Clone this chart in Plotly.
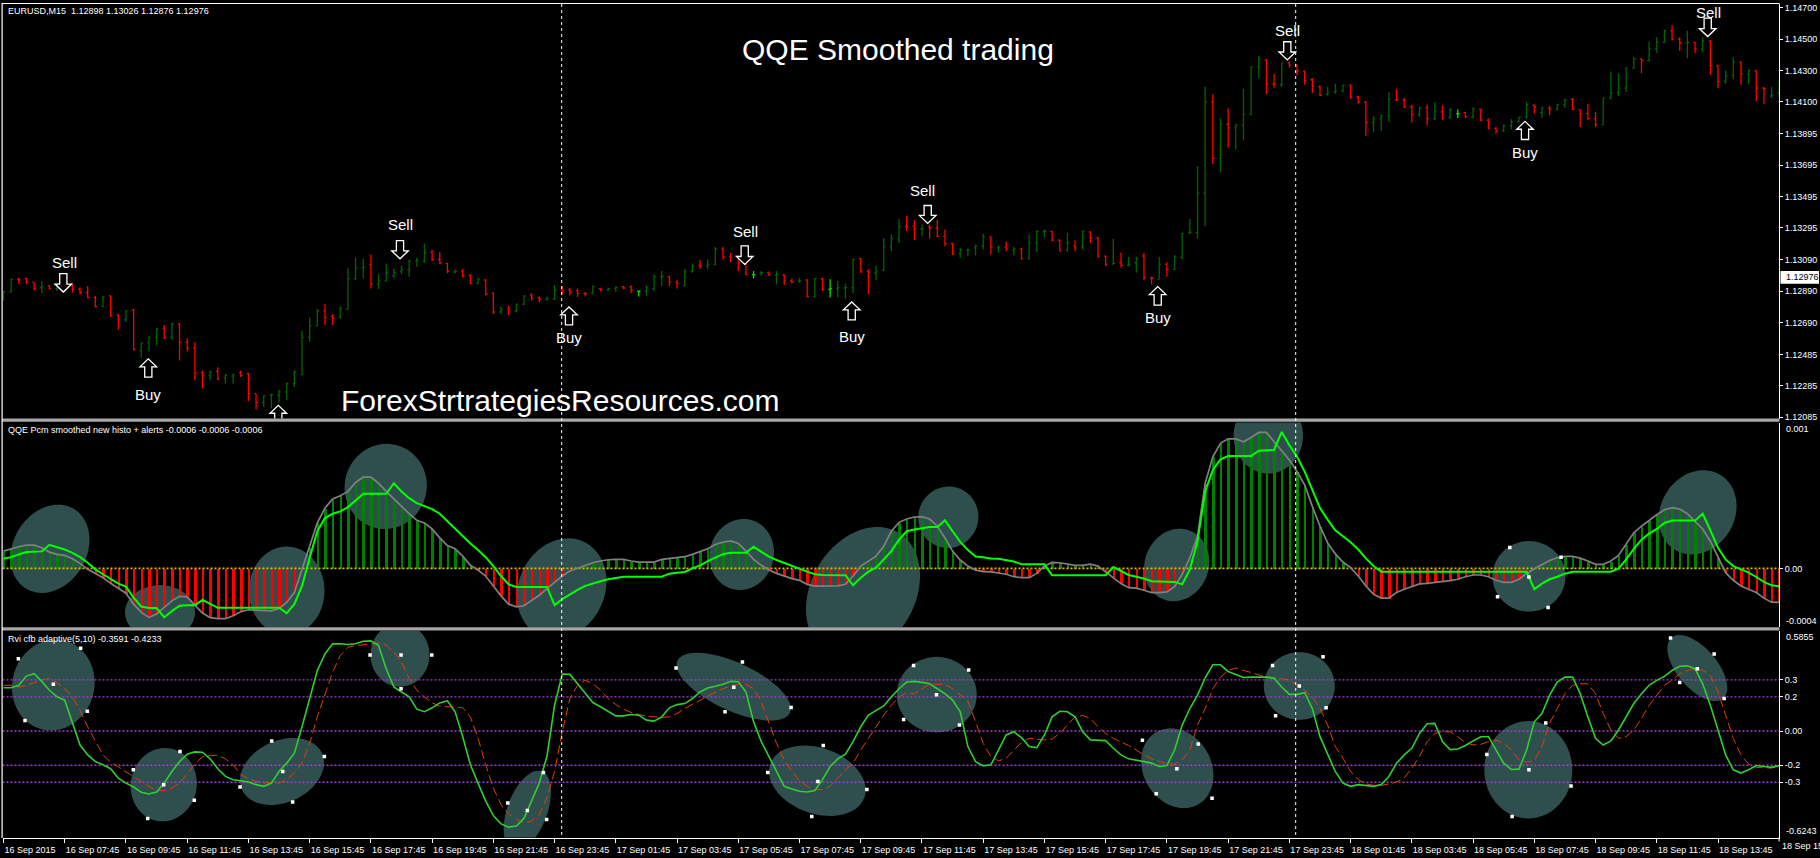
import math
import plotly.graph_objects as go

W, H = 1820, 858
# ---------- price bars, in points above 1.12000 ----------
open_pts = [861,886,966,971,949,913,924,907,924,935,
903,882,850,793,861,738,708,770,511,560,
596,653,596,681,564,526,369,353,378,336,
348,369,363,236,179,226,226,247,300,357,
596,670,765,729,723,776,971,1041,1062,935,
956,988,1019,1026,1083,1083,1140,1093,1068,1013,
1019,992,941,962,878,759,776,765,808,865,
850,835,839,899,899,892,877,877,907,899,
907,920,918,890,892,907,983,983,949,928,
1019,1055,1051,1062,1161,1110,1115,1062,996,1005,
1009,992,994,956,954,962,856,971,903,907,
911,913,1098,1017,1009,1024,1174,1225,1305,1305,
1288,1301,1294,1241,1195,1131,1153,1167,1178,1237,
1167,1174,1153,1161,1097,1199,1271,1273,1216,1153,
1178,1174,1269,1231,1114,1064,1072,1055,1072,1114,
975,966,1062,1030,1104,1263,1263,1517,2099,1739,
1957,1934,1949,2021,2325,2368,2215,2211,2347,2334,
2296,2241,2198,2148,2162,2169,2207,2131,2099,1968,
1993,2010,2114,2110,2067,2019,2061,1993,2036,1997,
2025,2031,2004,2052,1983,1930,1913,1947,1972,2002,
2078,2031,2061,2052,2082,2116,2050,2025,1993,1955,
2124,2158,2188,2315,2374,2364,2438,2480,2554,2501,
2476,2480,2438,2489,2332,2230,2268,2353,2279,2300,
2188,2137,2158]
close_pts = [888,966,962,949,907,920,907,935,945,903,
882,850,793,854,734,712,765,518,560,596,
649,596,681,564,526,369,353,374,331,353,
357,353,236,179,221,230,247,300,374,596,
670,765,723,717,780,971,1041,1043,935,956,
1009,1009,1026,1083,1089,1136,1093,1072,1019,1019,
988,941,966,871,759,772,765,808,861,844,
839,844,899,892,886,877,873,920,899,907,
913,911,899,890,913,983,985,949,941,1013,
1051,1051,1062,1163,1110,1108,1072,996,996,1009,
996,998,956,949,956,856,971,903,907,913,
913,1093,1013,1009,1019,1174,1225,1301,1301,1288,
1290,1294,1241,1195,1127,1153,1155,1178,1237,1174,
1174,1161,1161,1097,1199,1273,1275,1216,1148,1199,
1167,1273,1231,1114,1062,1068,1055,1062,1097,977,
973,1062,1030,1114,1258,1267,1517,2099,1739,1957,
1934,1949,2021,2325,2374,2215,2211,2347,2334,2300,
2236,2198,2141,2162,2169,2205,2131,2099,1968,1993,
2010,2116,2110,2067,2019,2061,1993,2036,1993,2046,
2025,2004,2052,1983,1930,1913,1947,1972,2002,2082,
2067,2061,2052,2082,2110,2052,2025,1993,1955,2124,
2158,2188,2315,2374,2364,2438,2480,2554,2501,2476,
2480,2438,2491,2332,2230,2268,2353,2279,2300,2188,
2184,2141,2205]
high_pts = [892,971,977,977,949,956,928,945,956,935,
914,924,861,861,865,744,772,776,564,602,
653,674,691,685,590,564,384,384,405,363,
363,384,369,236,226,236,257,306,384,638,
723,776,808,744,793,1041,1104,1098,1125,998,
1068,1034,1055,1093,1104,1195,1153,1140,1072,1030,
1034,998,977,966,882,793,797,812,865,878,
856,856,930,924,913,907,886,928,913,913,
924,924,928,894,928,998,1019,988,962,1034,
1068,1089,1093,1172,1174,1136,1119,1104,1019,1019,
1017,1019,998,971,977,966,977,977,966,956,
941,1098,1104,1030,1055,1231,1252,1352,1373,1343,
1316,1316,1347,1284,1199,1167,1161,1189,1258,1241,
1182,1208,1174,1167,1252,1280,1284,1275,1220,1263,
1216,1280,1273,1237,1119,1225,1136,1110,1110,1136,
983,1110,1076,1119,1263,1352,1690,2198,2148,1993,
2057,1961,2184,2325,2395,2374,2279,2347,2359,2338,
2300,2253,2205,2194,2215,2211,2211,2137,2103,2010,
2019,2163,2180,2124,2082,2067,2082,2099,2078,2061,
2052,2036,2065,2057,1993,1940,1955,1989,2004,2099,
2082,2067,2074,2088,2120,2124,2052,2088,2036,2129,
2294,2281,2321,2385,2379,2484,2512,2561,2590,2512,
2554,2484,2512,2491,2336,2300,2385,2357,2307,2300,
2194,2194,2243]
low_pts = [829,882,935,935,897,878,903,892,882,882,
871,844,787,787,727,645,695,511,465,505,
543,585,581,448,505,321,268,321,321,300,
300,342,187,137,151,141,179,194,278,353,
568,666,674,674,717,772,962,971,907,903,
950,977,998,983,1047,1072,1083,1062,1005,1005,
977,935,935,865,744,744,738,755,801,829,
818,829,835,871,865,854,856,871,890,892,
886,903,877,856,861,892,924,924,907,920,
1009,1034,1030,1055,1093,1076,1019,992,971,988,
988,935,930,941,945,850,850,892,850,850,
844,877,1009,871,962,1019,1146,1199,1273,1216,
1241,1225,1237,1178,1123,1104,1114,1119,1157,1125,
1136,1146,1119,1093,1093,1140,1233,1210,1146,1146,
1146,1157,1199,1104,1051,1062,1042,1047,1009,962,
934,966,983,1026,1097,1258,1225,1305,1703,1648,
1809,1796,1855,2014,2253,2148,2190,2194,2317,2268,
2211,2156,2135,2141,2152,2162,2120,2088,1883,1909,
1913,1972,2103,2061,1968,2004,1947,1983,1985,1993,
1997,1997,1993,1976,1925,1898,1909,1925,1968,1993,
2025,1997,2014,2046,2061,2046,1940,1983,1940,1951,
2116,2137,2163,2311,2283,2357,2412,2476,2491,2427,
2379,2412,2417,2273,2188,2215,2243,2209,2215,2103,
2084,2124,2131]
doji_bars = [83, 98, 108, 190]

# ---------- QQE histogram / slow line, in millionths ----------
qqe_hist = [120,136,150,161,161,143,113,97,90,67,
35,-7,-35,-65,-104,-138,-173,-249,-306,-341,
-318,-272,-226,-194,-198,-256,-311,-343,-350,-350,
-329,-302,-288,-290,-295,-295,-279,-237,-168,-7,
143,316,419,482,505,535,597,634,634,592,
535,482,431,380,334,316,274,212,159,136,
85,21,-12,-53,-122,-191,-249,-267,-260,-226,
-187,-141,-94,-53,-18,2,21,39,51,60,
62,62,51,44,44,44,62,67,74,81,
97,115,136,166,182,191,173,120,62,21,
-12,-35,-53,-71,-83,-111,-124,-124,-124,-122,
-111,-53,16,51,85,154,258,320,343,357,
359,343,293,212,120,58,16,-12,-23,-25,
-32,-41,-58,-65,-65,-35,16,41,39,28,
21,21,30,16,-25,-71,-106,-134,-138,-152,
-168,-168,-164,-127,-41,74,223,592,776,869,
901,901,880,910,945,945,880,823,753,673,
581,431,293,177,101,44,5,-53,-122,-180,
-207,-207,-168,-145,-127,-108,-104,-99,-92,-85,
-76,-58,-46,-46,-58,-83,-97,-97,-76,-35,
-3,28,55,74,83,83,71,51,28,28,
51,90,166,247,293,334,373,408,422,412,
380,327,274,189,74,-30,-83,-122,-145,-168,
-207,-235,-237]

# ---------- QQE fast line, bar number and value in millionths ----------
qqe_fast_bar = [0,1,2,3,5,6,7,8,9,10,11,12,13,14,15,16,17,18,19,20,21,22,23,24,25,26,27,28,36,37,38,39,40,41,42,43,44,45,46,47,50,51,52,53,54,55,56,57,58,59,
60,61,62,63,64,65,66,67,71,72,73,74,75,76,77,78,79,80,81,86,87,88,89,90,91,92,93,94,95,97,98,99,100,101,102,103,104,105,106,107,110,111,112,113,114,115,116,117,118,
119,120,121,122,123,124,125,126,127,128,129,130,131,132,133,136,137,144,145,146,147,148,149,150,152,153,154,155,156,157,158,159,160,163,164,165,166,167,168,169,170,171,172,173,174,175,176,177,178,
179,180,199,200,201,202,203,204,205,209,210,211,212,213,214,215,216,217,218,221,222,223,224,225,226,227,228,229,230,231,232]
qqe_fast = [67,78,97,113,118,164,147,131,108,78,39,-7,-41,-76,-106,-127,-203,-265,-276,-276,-341,-297,-260,-256,-256,-219,-249,-274,-274,-311,-249,-122,74,258,350,380,396,426,472,518,518,592,535,488,454,435,412,380,327,274,
223,173,127,78,16,-53,-111,-129,-129,-256,-214,-180,-150,-122,-104,-90,-76,-65,-58,-58,-37,-30,-25,0,21,51,74,99,108,108,150,113,81,58,37,21,0,-23,-41,-46,-48,-118,-65,-23,5,62,120,200,258,
270,281,288,288,334,258,184,127,83,78,69,67,55,48,28,28,-48,-48,9,-18,-46,-58,-71,-90,-90,-94,-111,-7,189,535,684,758,781,781,818,823,823,949,857,776,673,546,419,339,265,223,182,131,69,
16,-23,-23,-145,-106,-76,-58,-37,-23,-23,-23,-2,62,136,200,242,274,316,332,332,380,265,143,62,16,-7,-30,-60,-94,-118,-124]

# ---------- RVI main and signal lines ----------
rvi_main = [.254,.254,.268,.322,.336,.291,.239,.200,.181,.045,
-.082,-.140,-.179,-.198,-.221,-.276,-.305,-.328,-.359,-.369,
-.357,-.305,-.237,-.179,-.136,-.122,-.124,-.163,-.221,-.266,
-.285,-.291,-.299,-.314,-.324,-.305,-.237,-.188,-.130,.025,
.190,.355,.452,.511,.511,.507,.511,.526,.528,.501,
.365,.258,.229,.200,.128,.113,.136,.165,.177,.113,
-.033,-.198,-.305,-.411,-.495,-.544,-.563,-.557,-.512,-.411,
-.305,-.149,.151,.334,.332,.277,.219,.167,.142,.116,
.089,.089,.097,.093,.064,.058,.083,.136,.155,.161,
.190,.229,.252,.262,.274,.291,.289,.229,.054,-.062,
-.149,-.237,-.324,-.340,-.353,-.357,-.349,-.285,-.208,-.163,
-.136,-.062,.025,.093,.122,.147,.200,.248,.287,.291,
.285,.277,.248,.219,.181,.113,-.091,-.179,-.204,-.198,
-.111,-.023,-.004,-.039,-.091,-.097,-.023,.083,.116,.113,
.083,-.004,-.052,-.052,-.056,-.101,-.140,-.163,-.169,-.179,
-.188,-.208,-.202,-.111,.035,.132,.210,.312,.388,.388,
.349,.330,.314,.316,.316,.316,.310,.258,.215,.215,
.225,.132,-.033,-.140,-.237,-.305,-.324,-.314,-.318,-.324,
-.314,-.266,-.188,-.140,-.101,-.014,.043,.045,-.062,-.109,
-.105,-.085,-.058,-.033,-.033,-.111,-.188,-.225,-.223,-.111,
.054,.103,.210,.287,.316,.316,.219,.083,-.043,-.082,
-.058,.006,.083,.161,.219,.268,.297,.320,.355,.380,
.382,.365,.277,.151,.006,-.140,-.227,-.246,-.227,-.202,
-.208,-.213,-.202]
rvi_signal = [.268,.268,.258,.268,.283,.301,.307,.283,.248,.200,
.122,.025,-.058,-.140,-.182,-.211,-.241,-.270,-.299,-.324,
-.349,-.349,-.334,-.305,-.252,-.194,-.149,-.142,-.142,-.163,
-.198,-.256,-.279,-.295,-.303,-.305,-.305,-.285,-.246,-.188,
-.072,.083,.219,.345,.442,.491,.501,.504,.510,.516,
.504,.462,.404,.307,.239,.200,.165,.146,.142,.142,
.136,.083,-.043,-.198,-.334,-.431,-.485,-.518,-.537,-.528,
-.489,-.392,-.237,-.004,.190,.268,.297,.277,.239,.190,
.155,.128,.109,.097,.087,.083,.080,.083,.103,.132,
.155,.180,.206,.229,.248,.264,.274,.274,.248,.171,
.045,-.072,-.169,-.237,-.291,-.324,-.343,-.343,-.324,-.275,
-.227,-.188,-.111,-.043,.025,.093,.151,.200,.225,.219,
.248,.275,.274,.274,.248,.213,.175,.054,-.072,-.149,
-.175,-.159,-.111,-.066,-.043,-.047,-.052,-.047,-.014,.035,
.083,.091,.074,.025,-.014,-.043,-.062,-.085,-.111,-.140,
-.163,-.179,-.192,-.194,-.169,-.111,.035,.132,.248,.316,
.355,.369,.355,.341,.326,.316,.310,.307,.297,.268,
.239,.200,.132,.035,-.091,-.159,-.237,-.285,-.310,-.318,
-.318,-.310,-.299,-.275,-.217,-.149,-.062,-.014,-.004,-.004,
-.033,-.068,-.081,-.078,-.062,-.052,-.072,-.111,-.169,-.182,
-.175,-.091,.045,.132,.219,.268,.277,.277,.219,.103,
.006,-.043,-.033,.006,.074,.151,.210,.268,.297,.336,
.355,.365,.355,.326,.229,.093,-.043,-.140,-.194,-.213,
-.217,-.217,-.204]
rvi_levels = [0.3, 0.2, 0.0, -0.2, -0.3]

# ---------- object anchors on the indicator panes ----------
rvi_anchor_bar = [1.94,10.08,6.51,10.95,2.81,16.96,23.06,20.93,24.93,18.84,35.04,41.92,36.48,30.9,37.78,47.89,55.95,51.94,51.94,
65.88,70.54,68.44,70.97,87.87,96.54,95.41,102.9,94.27,99.85,107.1,106.4,112.8,105.6,118.9,126.1,121.9,124.9,117.6,
148.8,156.1,153.3,150.6,157.9,165.8,172.4,169.3,172.8,166.2,193.8,201.5,199.3,204.8,197.1,217.8,223.5,221.3,219,224.8]
rvi_anchor_val = [.423,.485,.274,.116,.062,-.227,-.120,-.314,-.405,-.512,-.058,-.149,-.237,-.328,-.415,.446,.446,.446,.248,
-.421,-.243,-.466,-.518,.369,.404,.256,.138,.113,-.243,-.085,-.295,-.343,-.501,.384,.357,.213,.035,.068,
-.054,-.076,-.221,-.367,-.394,.384,.435,.264,.136,.089,-.138,.047,-.227,-.322,-.501,.545,.452,.365,.285,.190]
qqe_anchor_bar = [196.8,203.5,199.3,195.2,201.8]
qqe_anchor_val = [145,78,-60,-198,-272]

# ---------- labels ----------
time_labels = ["16 Sep 2015","16 Sep 07:45","16 Sep 09:45","16 Sep 11:45","16 Sep 13:45","16 Sep 15:45","16 Sep 17:45","16 Sep 19:45","16 Sep 21:45","16 Sep 23:45",
"17 Sep 01:45","17 Sep 03:45","17 Sep 05:45","17 Sep 07:45","17 Sep 09:45","17 Sep 11:45","17 Sep 13:45","17 Sep 15:45","17 Sep 17:45","17 Sep 19:45","17 Sep 21:45","17 Sep 23:45",
"18 Sep 01:45","18 Sep 03:45","18 Sep 05:45","18 Sep 07:45","18 Sep 09:45","18 Sep 11:45","18 Sep 13:45"]
last_time_label = "18 Sep 15:45"
price_ticks = ["1.14700","1.14500","1.14300","1.14100","1.13895","1.13695","1.13495","1.13295","1.13090","1.12890","1.12690","1.12485","1.12285","1.12085"]

n = len(open_pts)
assert n == len(close_pts) == len(high_pts) == len(low_pts) == len(qqe_hist) == len(rvi_main) == len(rvi_signal) == 233
assert len(qqe_fast_bar) == len(qqe_fast), (len(qqe_fast_bar), len(qqe_fast))
assert len(rvi_anchor_bar) == len(rvi_anchor_val)

# ---------- layout geometry (pixels) ----------
XL, XR = 2.5, 1779.0
BAR0, BARW = 3.5, 7.654
P1 = (3.0, 420.0); P2 = (424.0, 630.0); P3 = (633.8, 841.5)
xr = [(XL-BAR0)/BARW, (XR-BAR0)/BARW]
p = lambda v: 1.12 + v/1e5
prange = [1.12077, 1.14725]
qrange = [-0.00041, 0.001014]
rrange = [-0.6243, 0.5855]

def px_x(X): return xr[0] + (X-XL)/(XR-XL)*(xr[1]-xr[0])
def px_y(Y, pane, rng):
    return rng[1] - (Y-pane[0])/(pane[1]-pane[0])*(rng[1]-rng[0])
def paper(X, Y): return X/W, 1-Y/H

fig = go.Figure()
bars = range(n)
normal = [i for i in bars if i not in doji_bars]
pick = lambda a, idx: [a[i] for i in idx]
fig.add_trace(go.Ohlc(x=normal, open=[p(v) for v in pick(open_pts, normal)], high=[p(v) for v in pick(high_pts, normal)],
    low=[p(v) for v in pick(low_pts, normal)], close=[p(v) for v in pick(close_pts, normal)], tickwidth=0.22,
    increasing=dict(line=dict(color="#006400", width=1.3)), decreasing=dict(line=dict(color="#ff0000", width=1.3)),
    xaxis="x", yaxis="y", showlegend=False))
fig.add_trace(go.Ohlc(x=doji_bars, open=[p(v) for v in pick(open_pts, doji_bars)], high=[p(v) for v in pick(high_pts, doji_bars)],
    low=[p(v) for v in pick(low_pts, doji_bars)], close=[p(v) for v in pick(close_pts, doji_bars)], tickwidth=0.22,
    increasing=dict(line=dict(color="#00e000", width=1.3)), decreasing=dict(line=dict(color="#00e000", width=1.3)),
    xaxis="x", yaxis="y", showlegend=False))

fig.add_trace(go.Bar(x=list(bars), y=[v*1e-6 for v in qqe_hist], width=0.33,
    marker=dict(color=["#008000" if v >= 0 else "#ff0000" for v in qqe_hist], line=dict(width=0)),
    xaxis="x2", yaxis="y2", showlegend=False))
fig.add_trace(go.Scatter(x=xr, y=[0, 0], mode="lines", line=dict(color="#d8c000", width=1.6, dash="2px,2px"),
    xaxis="x2", yaxis="y2", showlegend=False))
fig.add_trace(go.Scatter(x=list(bars), y=[v*1e-6 for v in qqe_hist], mode="lines", line=dict(color="#808080", width=1.7),
    xaxis="x2", yaxis="y2", showlegend=False))
fig.add_trace(go.Scatter(x=qqe_fast_bar, y=[v*1e-6 for v in qqe_fast], mode="lines", line=dict(color="#00ff00", width=2),
    xaxis="x2", yaxis="y2", showlegend=False))
fig.add_trace(go.Scatter(x=qqe_anchor_bar, y=[v*1e-6 for v in qqe_anchor_val], mode="markers",
    marker=dict(symbol="square", size=3.5, color="white"), xaxis="x2", yaxis="y2", showlegend=False))

for lv in rvi_levels:
    fig.add_trace(go.Scatter(x=xr, y=[lv, lv], mode="lines", line=dict(color="#a040d0", width=1.4, dash="2px,2px"),
        xaxis="x3", yaxis="y3", showlegend=False))
fig.add_trace(go.Scatter(x=list(bars), y=rvi_signal, mode="lines", line=dict(color="#e04000", width=1, dash="9px,4px"),
    xaxis="x3", yaxis="y3", showlegend=False))
fig.add_trace(go.Scatter(x=list(bars), y=rvi_main, mode="lines", line=dict(color="#32cd32", width=1.6),
    xaxis="x3", yaxis="y3", showlegend=False))
fig.add_trace(go.Scatter(x=rvi_anchor_bar, y=rvi_anchor_val, mode="markers",
    marker=dict(symbol="square", size=3.5, color="white"), xaxis="x3", yaxis="y3", showlegend=False))

shapes = []
# drawn ellipses: centre x/y, semi-axes, major-axis angle (pixels, degrees)
def ellipse(cx, cy, a, b, th, pane, rng, yref):
    th = math.radians(th); pts = []
    for k in range(72):
        t = 2*math.pi*k/72
        X = cx + a*math.cos(t)*math.cos(th) - b*math.sin(t)*math.sin(th)
        Y = cy - (a*math.cos(t)*math.sin(th) + b*math.sin(t)*math.cos(th))
        pts.append(f"{px_x(X):.4f} {px_y(Y, pane, rng):.7f}")
    shapes.append(dict(type="path", path="M " + " L ".join(pts) + " Z", xref="x"+yref[1:], yref=yref,
        fillcolor="#2f4f4f", line=dict(width=0), layer="below"))
for e in [(50,551,46.7,36.7,60),(160,615,27.5,35,90),(286.7,593.3,44.5,37.8,90),(385.7,488.3,43,41,75),
          (561.7,591,52,43,65),(741.7,556.7,36,32,75),(863,595,70,52,60),(948.3,519.3,31,30,75),
          (1176.7,567.3,37,32,70),(1268.3,437.3,38,34.7,90),(1529,578.7,36.5,35.5,0),(1697.7,514.3,44,37,60)]:
    ellipse(*e, P2, qrange, "y2")
for e in [(53.3,688,46,41,75),(163.7,788.3,37,33,80),(282,775,44,31,25),(400,657.7,32,29.5,90),
          (527.3,814.3,42,20,70),(733.7,689.7,62,24,-25),(817.3,784.3,50,33,-20),(936.7,697.7,40,38,0),
          (1177.3,771.7,42,34,-60),(1299.3,689,35.5,34,0),(1528.3,773.3,49,44,90),(1697.3,671,40,20,-50)]:
    ellipse(*e, P3, rrange, "y3")

# signal arrows: x, tail y, tip y (pixels)
def arrow(X, tail, tip):
    s = 1 if tip > tail else -1
    hw, sw, hl = 8.3, 3.6, 8.0
    neck = tip - s*hl
    poly = [(X-sw,tail),(X+sw,tail),(X+sw,neck),(X+hw,neck),(X,tip),(X-hw,neck),(X-sw,neck)]
    path = "M " + " L ".join(f"{px_x(a):.4f} {px_y(b,P1,prange):.6f}" for a, b in poly) + " Z"
    shapes.append(dict(type="path", path=path, xref="x", yref="y", fillcolor="#000000",
        line=dict(color="white", width=1.3), layer="above"))
for a in [(63.3,274.3,292.7),(148.3,378.3,360),(400,241,259.3),(278.3,425,406.7),(569,325.7,307.7),(744.7,246.3,265),
          (851.7,320.7,302.7),(927.7,205.7,223.7),(1157.7,306,287.3),(1287.3,41,59.3),(1525,139.3,121),(1707.7,17.3,35.7)]:
    arrow(*a)

def prect(x0, y0, x1, y1, color):
    a, b = paper(x0, y0); c, d = paper(x1, y1)
    shapes.append(dict(type="rect", xref="paper", yref="paper", x0=a, y0=b, x1=c, y1=d, fillcolor=color, line=dict(width=0), layer="above"))
prect(2, 420, 1779.5, 423.2, "#a6a6a6")
prect(2, 630, 1779.5, 633.2, "#a6a6a6")
prect(2, 2, 1779.5, 3, "#ffffff")
prect(1.5, 2, 2.7, 842, "#ffffff")
# last-bar tick on the time axis and the white current-price box behind its label
prect(1778.6, 841.5, 1779.6, 845.5, "#ffffff")
prect(1780.5, 271.5, 1819, 284.5, "#ffffff")

for X in (561.7, 1295.7):
    a, b = paper(X, 3); c, d = paper(X, 841.5)
    shapes.append(dict(type="line", xref="paper", yref="paper", x0=a, x1=c, y0=b, y1=d,
        line=dict(color="white", width=1, dash="3px,3px"), layer="above"))

anns = []
def text(X, Y, s, size, anchor="center", color="white", font="Liberation Sans"):
    a, b = paper(X, Y)
    anns.append(dict(xref="paper", yref="paper", x=a, y=b, text=s, showarrow=False, xanchor=anchor, yanchor="middle",
             font=dict(family=font, size=size, color=color), borderpad=0))
text(897.5, 49, "QQE Smoothed trading", 30)
text(560.5, 402, "ForexStrtrategiesResources.com", 30)
for X, Y, s in [(64,263,"Sell"),(148,396,"Buy"),(400,225,"Sell"),(569,338,"Buy"),(745,232,"Sell"),(852,337,"Buy"),
                (922,191,"Sell"),(1158,318,"Buy"),(1287,30,"Sell"),(1525,152,"Buy"),(1708,12,"Sell")]:
    text(X, Y, s, 15)
text(7, 10, "EURUSD,M15  1.12898 1.13026 1.12876 1.12976", 9, "left")
text(7, 431.5, "QQE Pcm smoothed new histo + alerts -0.0006 -0.0006 -0.0006", 9, "left")
text(7, 641.5, "Rvi cfb adaptive(5,10) -0.3591 -0.4233", 9, "left")
text(1785, 431, "0.001", 9, "left")
text(1785, 624, "-0.0004", 9, "left")
text(1785, 640, "0.5855", 9, "left")
text(1785, 835, "-0.6243", 9, "left")
text(1785, 278, "1.12976", 9, "left", color="black")
text(1781, 850, last_time_label, 9, "left")

def yax(dom, rng, **kw):
    return dict(domain=[1-dom[1]/H, 1-dom[0]/H], range=rng, side="right", showgrid=False, zeroline=False, fixedrange=True,
        showline=True, linecolor="white", linewidth=1, color="white", ticks="outside", ticklen=3, tickcolor="white",
        tickfont=dict(family="Liberation Sans", size=9, color="white"), **kw)
def xax(anchor, **kw):
    return dict(domain=[XL/W, XR/W], range=xr, anchor=anchor, showgrid=False, zeroline=False, fixedrange=True, **kw)

fig.update_layout(width=W, height=H, margin=dict(l=0, r=0, t=0, b=0), paper_bgcolor="#000000", plot_bgcolor="#000000",
    autosize=False, showlegend=False, bargap=0, barmode="overlay", shapes=shapes, annotations=anns,
    xaxis=xax("y", showticklabels=False, ticks="", rangeslider=dict(visible=False)),
    xaxis2=xax("y2", showticklabels=False, ticks=""),
    xaxis3=xax("y3", tickmode="array", tickvals=[8*k for k in range(len(time_labels))], ticktext=time_labels, ticks="outside",
        ticklen=4, tickcolor="white", showline=True, linecolor="white", linewidth=1, color="white", tickangle=0,
        ticklabelposition="outside right", ticklabelstandoff=4, tickfont=dict(family="Liberation Sans", size=9, color="white")),
    yaxis=yax(P1, prange, anchor="x", tickmode="array", tickvals=[float(t) for t in price_ticks], ticktext=price_ticks),
    yaxis2=yax(P2, qrange, anchor="x2", tickmode="array", tickvals=[0], ticktext=["0.00"]),
    yaxis3=yax(P3, rrange, anchor="x3", tickmode="array", tickvals=rvi_levels, ticktext=["0.3","0.2","0.00","-0.2","-0.3"]))

fig.write_html("out.html", config=dict(displayModeBar=False),
    post_script="document.body.style.margin='0';document.documentElement.style.overflow='hidden';")
